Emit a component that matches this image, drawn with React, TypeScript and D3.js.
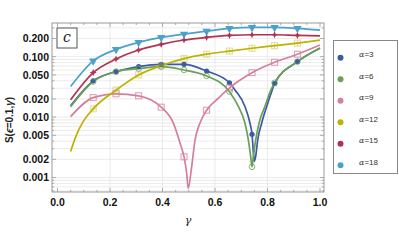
import React from "react";
import * as d3 from "d3";

const W = 399;
const H = 249;
const FRAME = { left: 52, right: 324, top: 23, bottom: 192 };

// gamma grid of the computed points (markers sit on the inner ten)
const gammas = [0.05, 0.136, 0.223, 0.309, 0.395, 0.482, 0.568, 0.655, 0.741, 0.827, 0.914, 1.0];

const alpha3 = [0.0154, 0.0398, 0.0566, 0.0685, 0.0749, 0.0749, 0.058, 0.037, 0.0052, 0.036, 0.083, 0.138];
const alpha6 = [0.0148, 0.0388, 0.0566, 0.0635, 0.0685, 0.0603, 0.048, 0.0264, 0.0015, 0.037, 0.083, 0.14];
const alpha9 = [0.0102, 0.021, 0.0243, 0.0225, 0.0146, 0.0022, 0.013, 0.0305, 0.0544, 0.081, 0.11, 0.156];
const alpha12 = [0.0027, 0.0137, 0.028, 0.05, 0.071, 0.093, 0.11, 0.124, 0.138, 0.152, 0.168, 0.188];
const alpha15 = [0.0193, 0.0545, 0.0916, 0.129, 0.16, 0.189, 0.209, 0.225, 0.231, 0.231, 0.225, 0.222];
const alpha18 = [0.032, 0.085, 0.132, 0.173, 0.209, 0.237, 0.265, 0.294, 0.305, 0.305, 0.294, 0.275];

// extra curve points read near the dips and the steep starts
const extra3: [number, number][] = [
  [0.676, 0.0282], [0.714, 0.015], [0.733, 0.008], [0.7474, 0.00224], [0.7497, 0.00185],
  [0.755, 0.00224], [0.7627, 0.0042], [0.778, 0.008], [0.797, 0.015], [0.818, 0.0282],
];
const extra6: [number, number][] = [
  [0.689, 0.015], [0.714, 0.008], [0.727, 0.0042], [0.736, 0.0022], [0.746, 0.0022],
  [0.755, 0.0042], [0.768, 0.008], [0.79, 0.015], [0.813, 0.0282],
];
const extra9: [number, number][] = [
  [0.441, 0.008], [0.467, 0.0037], [0.492, 0.00119], [0.498, 0.00066], [0.511, 0.0015],
  [0.524, 0.0042], [0.543, 0.008], [0.613, 0.0206],
];
const extra12: [number, number][] = [[0.07, 0.0048], [0.095, 0.008]];

const labels = ["α=3", "α=6", "α=9", "α=12", "α=15", "α=18"];
const colors = ["#3b5ba3", "#6aa157", "#d47f9d", "#bdb300", "#b03452", "#4aa2cb"];

const yMajor = [0.001, 0.002, 0.005, 0.01, 0.02, 0.05, 0.1, 0.2];
const yMajorLabels = ["0.001", "0.002", "0.005", "0.010", "0.020", "0.050", "0.100", "0.200"];
const xMajor = [0, 0.2, 0.4, 0.6, 0.8, 1.0];

const xScale = d3.scaleLinear().domain([0, 1]).range([57.5, 320]);
const yScale = d3.scaleLog().domain([0.001, 0.1]).range([177.5, 56.7]);

const series = [
  { vals: alpha3, extra: extra3, marker: "dot" },
  { vals: alpha6, extra: extra6, marker: "circle" },
  { vals: alpha9, extra: extra9, marker: "square" },
  { vals: alpha12, extra: extra12, marker: "xsquare" },
  { vals: alpha15, extra: [] as [number, number][], marker: "star4" },
  { vals: alpha18, extra: [] as [number, number][], marker: "triangle" },
];

const line = d3
  .line<[number, number]>()
  .x((d) => xScale(d[0]))
  .y((d) => yScale(d[1]))
  .curve(d3.curveMonotoneX);

const Marker = ({ kind, x, y, color }: { kind: string; x: number; y: number; color: string }) => {
  if (kind === "dot") return <circle cx={x} cy={y} r={2.6} fill={color} />;
  if (kind === "circle")
    return <circle cx={x} cy={y} r={2.8} fill="none" stroke={color} strokeWidth={1} opacity={0.8} />;
  if (kind === "square")
    return <rect x={x - 3} y={y - 3} width={6} height={6} fill="none" stroke={color} strokeWidth={1} opacity={0.8} />;
  if (kind === "xsquare")
    return (
      <g opacity={0.45} stroke={color} strokeWidth={1} fill="none">
        <rect x={x - 3} y={y - 3} width={6} height={6} />
        <path d={`M${x - 3},${y}H${x + 3}M${x},${y - 3}V${y + 3}`} />
      </g>
    );
  if (kind === "star4") {
    const r = 3.6;
    const q = 1.1;
    const d = `M${x},${y - r}L${x + q},${y - q}L${x + r},${y}L${x + q},${y + q}L${x},${y + r}L${x - q},${y + q}L${x - r},${y}L${x - q},${y - q}Z`;
    return <path d={d} fill={color} />;
  }
  const t = d3.symbol(d3.symbolTriangle, 30)();
  return <path d={t || ""} transform={`translate(${x},${y}) rotate(180)`} fill={color} />;
};

export default function App() {
  const xMinor = d3.range(0, 1.0001, 0.05);
  const yMinor: number[] = [];
  for (const dec of [0.0001, 0.001, 0.01, 0.1]) {
    for (let k = 1; k < 10; k++) {
      const v = +(k * dec).toPrecision(3);
      const yy = yScale(v);
      if (yy > FRAME.top && yy < FRAME.bottom) yMinor.push(v);
    }
  }
  const frameColor = "#9a9a9a";
  const tickFont = "'Liberation Sans', Arial, sans-serif";

  return (
    <svg width={W} height={H} style={{ position: "absolute", left: 0, top: 0, background: "#fff" }}>
      {/* grid */}
      <g stroke="#e6e6e6" strokeWidth={0.8}>
        {yMinor.map((v, i) => (
          <line key={"gy" + i} x1={FRAME.left} x2={FRAME.right} y1={yScale(v)} y2={yScale(v)} />
        ))}
        {xMajor.slice(1, -1).map((v, i) => (
          <line key={"gx" + i} x1={xScale(v)} x2={xScale(v)} y1={FRAME.top} y2={FRAME.bottom} />
        ))}
      </g>

      {/* curves */}
      {series.map((s, i) => {
        const pts: [number, number][] = gammas.map((g, j) => [g, s.vals[j]] as [number, number]);
        const all = pts.concat(s.extra).sort((a, b) => a[0] - b[0]);
        return <path key={"l" + i} d={line(all) || ""} fill="none" stroke={colors[i]} strokeWidth={1.7} />;
      })}

      {/* markers */}
      {series.map((s, i) =>
        gammas.slice(1, -1).map((g, j) => (
          <Marker key={"m" + i + "-" + j} kind={s.marker} x={xScale(g)} y={yScale(s.vals[j + 1])} color={colors[i]} />
        ))
      )}

      {/* frame */}
      <rect
        x={FRAME.left}
        y={FRAME.top}
        width={FRAME.right - FRAME.left}
        height={FRAME.bottom - FRAME.top}
        fill="none"
        stroke={frameColor}
        strokeWidth={1}
      />
      <g stroke={frameColor} strokeWidth={0.8}>
        {xMinor.map((v, i) => {
          const major = Math.abs(v * 5 - Math.round(v * 5)) < 1e-6;
          const len = major ? 4 : 2.2;
          return (
            <g key={"xt" + i}>
              <line x1={xScale(v)} x2={xScale(v)} y1={FRAME.bottom} y2={FRAME.bottom - len} />
              <line x1={xScale(v)} x2={xScale(v)} y1={FRAME.top} y2={FRAME.top + len} />
            </g>
          );
        })}
        {yMinor.map((v, i) => {
          const major = yMajor.some((m) => Math.abs(m - v) < 1e-9);
          const len = major ? 4 : 2.2;
          return (
            <g key={"yt" + i}>
              <line x1={FRAME.left} x2={FRAME.left + len} y1={yScale(v)} y2={yScale(v)} />
              <line x1={FRAME.right} x2={FRAME.right - len} y1={yScale(v)} y2={yScale(v)} />
            </g>
          );
        })}
      </g>

      {/* tick labels */}
      <g fontFamily={tickFont} fontWeight="bold" fontSize={10.5} fill="#111">
        {xMajor.map((v, i) => (
          <text key={"xl" + i} x={xScale(v)} y={205.5} textAnchor="middle">
            {v.toFixed(1)}
          </text>
        ))}
        {yMajor.map((v, i) => (
          <text key={"yl" + i} x={49} y={yScale(v) + 3.8} textAnchor="end">
            {yMajorLabels[i]}
          </text>
        ))}
      </g>

      {/* axis labels */}
      <text x={188} y={224} fontFamily="'DejaVu Serif', serif" fontStyle="italic" fontSize={11} textAnchor="middle" fill="#222">
        γ
      </text>
      <text
        transform="translate(13,120) rotate(-90)"
        fontFamily={tickFont}
        fontWeight="bold"
        fontSize={10}
        textAnchor="middle"
        fill="#222"
      >
        S(<tspan fontStyle="italic">ϵ</tspan>=0.1,<tspan fontStyle="italic">γ</tspan>)
      </text>

      {/* panel label */}
      <rect x={57} y={28} width={20} height={20} fill="#fff" stroke="#555" strokeWidth={1} />
      <text x={67} y={42} fontFamily="'DejaVu Serif', serif" fontStyle="italic" fontSize={14} textAnchor="middle" fill="#222">
        c
      </text>

      {/* legend */}
      <rect x={333.5} y={40.5} width={64} height={133} fill="#fff" stroke="#888" strokeWidth={1} />
      {labels.map((l, i) => (
        <g key={"lg" + i} transform={`translate(0,${57.7 + i * 21.5})`}>
          <circle cx={340.5} cy={0} r={3} fill={colors[i]} />
          <text x={359} y={-0.5} fontFamily={tickFont} fontSize={8} fill="#333">
            <tspan fontFamily="'DejaVu Serif', serif" fontStyle="italic">α</tspan>
            {l.slice(1)}
          </text>
        </g>
      ))}
    </svg>
  );
}
